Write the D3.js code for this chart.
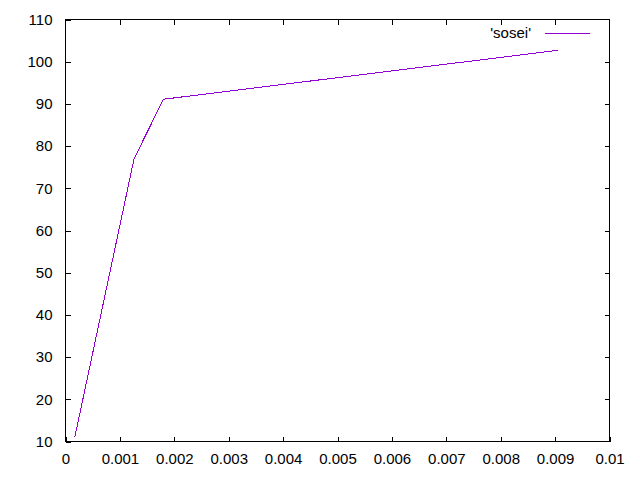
<!DOCTYPE html>
<html>
<head>
<meta charset="utf-8">
<script src="https://cdn.jsdelivr.net/npm/d3@7"></script>
<style>
  body { margin: 0; background: #fff; }
  text { font-family: "Liberation Sans", Arial, sans-serif; font-size: 15px; fill: #000; }
</style>
</head>
<body>
<div id="chart"></div>
<script>
// data
const xs = [0.00017, 0.00126, 0.0018, 0.00905];
const ys = [11, 77, 91.1, 102.7];
const seriesName = "'sosei'";
const xTicks = [0, 0.001, 0.002, 0.003, 0.004, 0.005, 0.006, 0.007, 0.008, 0.009, 0.01];
const yTicks = [10, 20, 30, 40, 50, 60, 70, 80, 90, 100, 110];

const W = 640, H = 480;
const plotL = 65.5, plotR = 609.5, plotT = 19.5, plotB = 441.5;

const svg = d3.select("#chart").append("svg")
    .attr("width", W)
    .attr("height", H);

const x = d3.scaleLinear().domain([0, 0.01]).range([plotL, plotR]);
const y = d3.scaleLinear().domain([10, 110]).range([plotB, plotT]);

const fmt = d => d === 0 ? "0" : String(+d.toFixed(3));

// bottom axis + mirrored top ticks
svg.append("g")
    .attr("transform", `translate(0,${plotB})`)
    .call(d3.axisBottom(x).tickValues(xTicks).tickFormat(fmt).tickSizeInner(-5).tickSizeOuter(0).tickPadding(12));
svg.append("g")
    .attr("transform", `translate(0,${plotT})`)
    .call(d3.axisTop(x).tickValues(xTicks.slice(1, -1)).tickFormat("").tickSizeInner(-5).tickSizeOuter(0));

// left axis + mirrored right ticks
svg.append("g")
    .attr("transform", `translate(${plotL},0)`)
    .call(d3.axisLeft(y).tickValues(yTicks).tickSizeInner(-5).tickSizeOuter(0).tickPadding(13));
svg.append("g")
    .attr("transform", `translate(${plotR},0)`)
    .call(d3.axisRight(y).tickValues(yTicks.slice(1, -1)).tickFormat("").tickSizeInner(-5).tickSizeOuter(0));

svg.selectAll(".domain").remove();
svg.selectAll(".tick line").attr("stroke", "#000").attr("shape-rendering", "crispEdges");
svg.selectAll(".tick text")
    .style("font-family", "'Liberation Sans', Arial, sans-serif")
    .style("font-size", "15px")
    .attr("fill", "#000");

// frame
svg.append("rect")
    .attr("x", plotL).attr("y", plotT)
    .attr("width", plotR - plotL).attr("height", plotB - plotT)
    .attr("fill", "none")
    .attr("stroke", "#000")
    .attr("shape-rendering", "crispEdges");

// the series (no antialiasing, like the gnuplot png)
const pts = xs.map((v, i) => [v, ys[i]]);
svg.append("path")
    .datum(pts)
    .attr("fill", "none")
    .attr("stroke", "#9400d3")
    .attr("stroke-width", 1)
    .attr("shape-rendering", "crispEdges")
    .attr("d", d3.line().x(d => x(d[0])).y(d => y(d[1])));

// legend
svg.append("text")
    .attr("x", 531).attr("y", 38)
    .attr("text-anchor", "end")
    .text(seriesName);
svg.append("line")
    .attr("x1", 545).attr("x2", 590)
    .attr("y1", 33.5).attr("y2", 33.5)
    .attr("stroke", "#9400d3")
    .attr("shape-rendering", "crispEdges");
</script>
</body>
</html>
